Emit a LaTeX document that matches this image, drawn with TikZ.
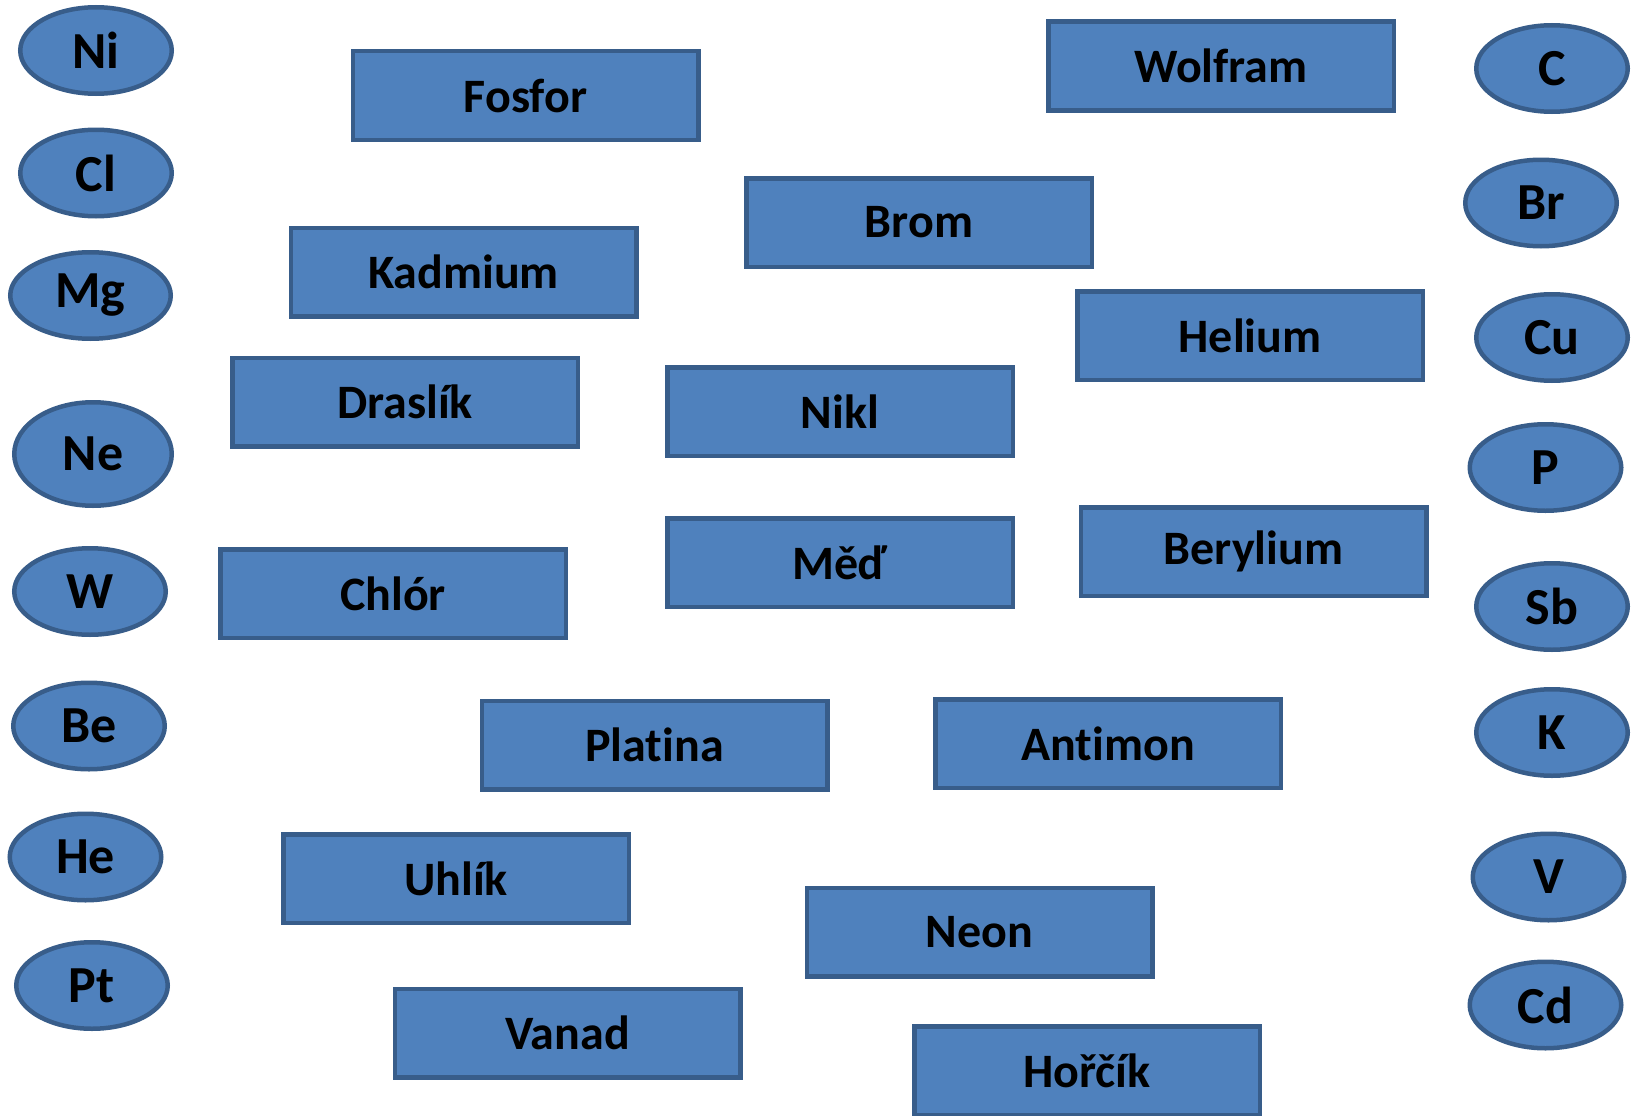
\documentclass[tikz,border=0pt]{standalone}
\usepackage{fontspec}
\setmainfont{Carlito}[Ligatures=NoCommon]
\usetikzlibrary{shapes.geometric}
\definecolor{boxfill}{HTML}{4F81BD}
\definecolor{boxline}{HTML}{385D8A}
\tikzset{
  elem/.style={draw=boxline, fill=boxfill, line width=4.5pt, rectangle, inner sep=0pt,
    minimum width=345.5pt, minimum height=88.5pt,
    font=\fontsize{48}{50}\selectfont\bfseries, text=black},
  sym/.style={draw=boxline, fill=boxfill, line width=4.5pt, ellipse, inner sep=0pt,
    minimum width=151.5pt, minimum height=86.5pt,
    font=\fontsize{52}{54}\selectfont\bfseries, text=black}
}
\begin{document}
\begin{tikzpicture}[x=1pt,y=-1pt]
\useasboundingbox (0,0) rectangle (1631,1116);
\clip (0,0) rectangle (1631,1116);
% rectangles
\node[elem] (fosfor) at (525.5,95.5) {Fosfor};
\node[elem] (wolfram) at (1221,66) {Wolfram};
\node[elem] (brom) at (919,222.5) {Brom};
\node[elem] (kadmium) at (463.5,272) {Kadmium};
\node[elem] (helium) at (1250,335.5) {Helium};
\node[elem] (draslik) at (405,402) {Draslík};
\node[elem] (nikl) at (840,411.5) {Nikl};
\node[elem] (berylium) at (1253.5,551.5) {Berylium};
\node[elem] (med) at (840,562.5) {Měď};
\node[elem] (chlor) at (393,593.5) {Chlór};
\node[elem] (platina) at (654.5,745) {Platina};
\node[elem] (antimon) at (1108,743.5) {Antimon};
\node[elem] (uhlik) at (456,878.5) {Uhlík};
\node[elem] (neon) at (979.5,932) {Neon};
\node[elem] (vanad) at (567.5,1033) {Vanad};
\node[elem] (horcik) at (1087,1070.5) {Hořčík};
% left ellipses
\node[sym] (ni) at (96,50.5) {Ni};
\node[sym] (cl) at (96,173) {Cl};
\node[sym, minimum width=160.5pt] (mg) at (90.5,295.5) {Mg};
\node[sym, minimum width=157.5pt, minimum height=103.5pt] (ne) at (93,454) {Ne};
\node[sym] (w) at (90,591.5) {W};
\node[sym] (be) at (89,726) {Be};
\node[sym] (he) at (85.5,857) {He};
\node[sym] (pt) at (92,985.5) {Pt};
% right ellipses
\node[sym] (c) at (1552,68.5) {C};
\node[sym] (br) at (1541,203) {Br};
\node[sym] (cu) at (1552,337.5) {Cu};
\node[sym] (p) at (1545.5,467.5) {P};
\node[sym] (sb) at (1552,606.5) {Sb};
\node[sym] (k) at (1552,732.5) {K};
\node[sym] (v) at (1548.5,877) {V};
\node[sym] (cd) at (1545.5,1005) {Cd};
\end{tikzpicture}
\end{document}
